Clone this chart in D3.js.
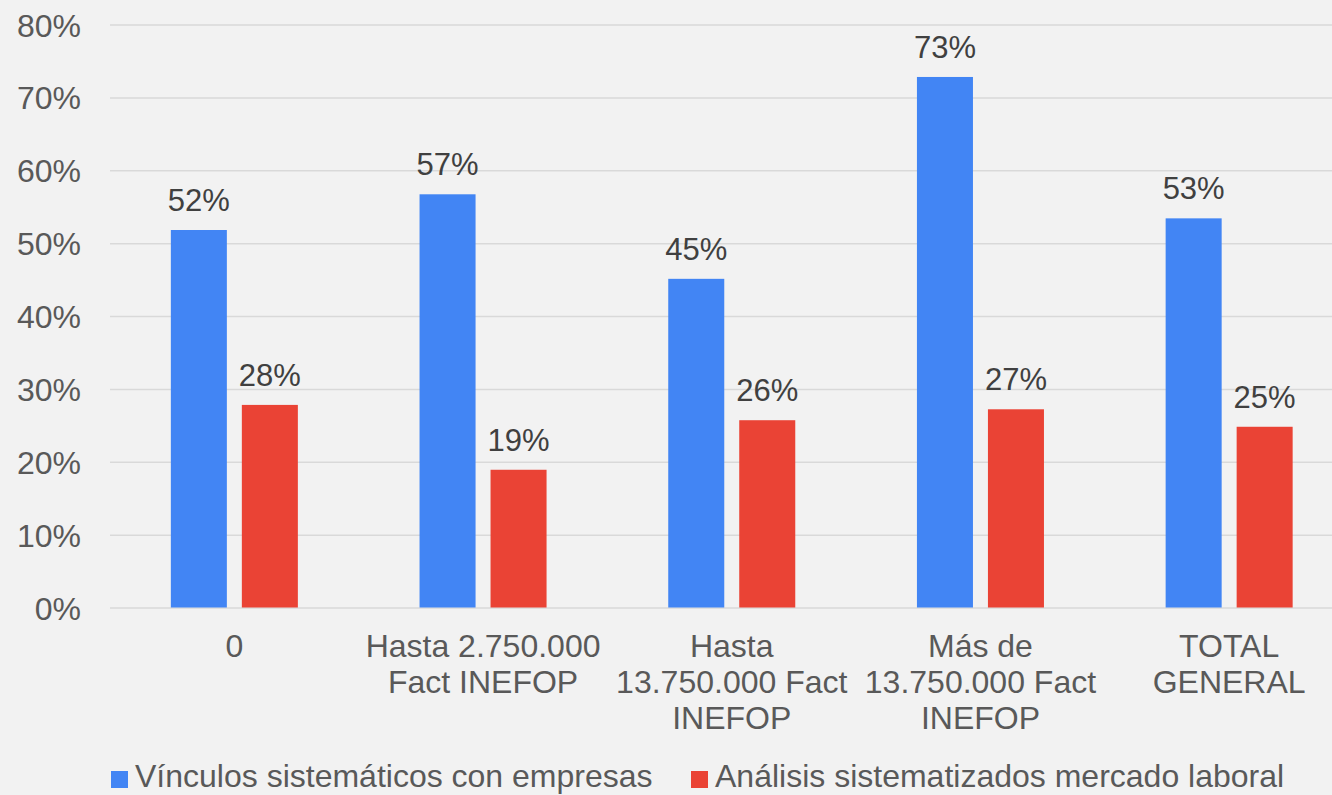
<!DOCTYPE html>
<html>
<head>
<meta charset="utf-8">
<script src="https://cdn.jsdelivr.net/npm/d3@7"></script>
<style>
	body { margin: 0; background: #f2f2f2; }
	text { font-family: "Liberation Sans", Arial, sans-serif; }
</style>
</head>
<body>
<svg width="1332" height="795"></svg>
<script>
var categories = ["0", "Hasta 2.750.000\nFact INEFOP", "Hasta\n13.750.000 Fact\nINEFOP", "Más de\n13.750.000 Fact\nINEFOP", "TOTAL\nGENERAL"];
var seriesNames = ["Vínculos sistemáticos con empresas", "Análisis sistematizados mercado laboral"];
var vinculos = [0.518, 0.567, 0.451, 0.728, 0.534];
var analisis = [0.278, 0.189, 0.257, 0.272, 0.248];
var yTicks = [0, 0.1, 0.2, 0.3, 0.4, 0.5, 0.6, 0.7, 0.8];
var colors = ["#4285f4", "#ea4335"];

var svg = d3.select("svg"),
	width = +svg.attr("width"),
	height = +svg.attr("height");

svg.append("rect").attr("width", width).attr("height", height).attr("fill", "#f2f2f2");

var seriesValues = [vinculos, analisis];
var rows = categories.map(function (c, i) {
	return { cat: c, values: seriesValues.map(function (s, j) { return { key: j, value: s[i] }; }) };
});

var x0 = d3.scaleBand()
	.domain(categories)
	.range([110, 1353.5]);

var x1 = d3.scaleBand()
	.domain([0, 1])
	.range([0, x0.bandwidth()])
	.paddingInner(0.211)
	.paddingOuter(0.857);

var y = d3.scaleLinear()
	.domain([0, 0.8])
	.range([607.5, 24.5]);

var fmt = d3.format(".0%");

// gridlines + y labels
var yAxis = svg.append("g")
	.attr("transform", "translate(110,0)")
	.call(d3.axisLeft(y).tickValues(yTicks).tickSize(-(width - 110)).tickPadding(29).tickFormat(fmt));
yAxis.select(".domain").remove();
yAxis.selectAll(".tick line").attr("stroke", "#d9d9d9").attr("stroke-width", 1.5);
yAxis.selectAll(".tick text")
	.attr("fill", "#595959")
	.style("font-size", "32px")
	.attr("dy", "0.36em");

var group = svg.append("g")
	.selectAll("g")
	.data(rows)
	.enter().append("g")
	.attr("transform", function (d) { return "translate(" + x0(d.cat) + ",0)"; });

group.selectAll("rect")
	.data(function (d) { return d.values; })
	.enter().append("rect")
	.attr("x", function (d) { return x1(d.key); })
	.attr("y", function (d) { return y(d.value); })
	.attr("width", x1.bandwidth())
	.attr("height", function (d) { return y(0) - y(d.value); })
	.attr("fill", function (d) { return colors[d.key]; });

group.selectAll("text.val")
	.data(function (d) { return d.values; })
	.enter().append("text")
	.attr("class", "val")
	.attr("x", function (d) { return x1(d.key) + x1.bandwidth() / 2; })
	.attr("y", function (d) { return y(d.value) - 19; })
	.attr("text-anchor", "middle")
	.attr("fill", "#404040")
	.style("font-size", "31px")
	.text(function (d) { return fmt(d.value); });

// category labels
var catLabels = svg.append("g")
	.selectAll("text")
	.data(categories)
	.enter().append("text")
	.attr("x", function (d) { return x0(d) + x0.bandwidth() / 2; })
	.attr("y", 657)
	.attr("text-anchor", "middle")
	.attr("fill", "#595959")
	.style("font-size", "32px");

catLabels.selectAll("tspan")
	.data(function (d) { return d.split("\n"); })
	.enter().append("tspan")
	.attr("x", function () { return d3.select(this.parentNode).attr("x"); })
	.attr("dy", function (d, i) { return i === 0 ? 0 : 36; })
	.text(function (d) { return d; });

// legend
var legendX = [111, 691];
var legend = svg.append("g")
	.selectAll("g")
	.data(seriesNames)
	.enter().append("g")
	.attr("transform", function (d, i) { return "translate(" + legendX[i] + ",771)"; });

legend.append("rect")
	.attr("width", 17)
	.attr("height", 17)
	.attr("fill", function (d, i) { return colors[i]; });

legend.append("text")
	.attr("x", 24)
	.attr("y", 16)
	.attr("fill", "#595959")
	.style("font-size", "32px")
	.text(function (d) { return d; });
</script>
</body>
</html>
